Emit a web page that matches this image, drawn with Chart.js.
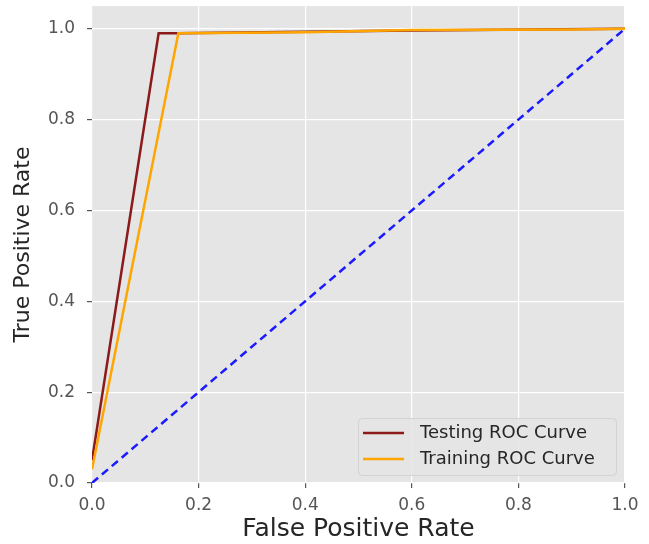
<!DOCTYPE html>
<html>
<head>
<meta charset="utf-8">
<script src="https://cdn.jsdelivr.net/npm/chart.js@4.4.1/dist/chart.umd.min.js"></script>
<style>
html,body{margin:0;padding:0;background:#fff;}
#wrap{width:649px;height:544px;}
</style>
</head>
<body>
<div id="wrap"><canvas id="c" width="649" height="544"></canvas></div>
<script>
const testingFPR = [0.0, 0.125, 0.16, 0.6, 1.0];
const testingTPR = [0.05, 0.99, 0.99, 0.996, 1.0];
const trainingFPR = [0.0, 0.162, 0.4, 0.6, 0.9, 1.0];
const trainingTPR = [0.03, 0.99, 0.992, 0.997, 0.998, 1.0];
const chanceFPR = [0.0, 1.0];
const chanceTPR = [0.0, 1.0];
const tickValues = [0.0, 0.2, 0.4, 0.6, 0.8, 1.0];
const seriesLabels = ['Testing ROC Curve', 'Training ROC Curve'];
const xTitle = 'False Positive Rate';
const yTitle = 'True Positive Rate';

const pts = (xs, ys) => xs.map((x, i) => ({x: x, y: ys[i]}));
const FONT = "'DejaVu Sans', sans-serif";

const bgPlugin = {
  id: 'bg',
  beforeDraw(chart) {
    const {ctx, chartArea: a} = chart;
    ctx.save();
    ctx.fillStyle = '#E5E5E5';
    ctx.fillRect(a.left, a.top, a.right - a.left, a.bottom - a.top);
    ctx.restore();
  }
};

const legendPlugin = {
  id: 'innerLegend',
  afterDraw(chart) {
    const {ctx, chartArea: a} = chart;
    const items = chart.data.datasets.filter(d => d.label);
    const w = 258, rowH = 26, h = 57;
    const x0 = a.right - 9 - w, y0 = a.bottom - 8 - h;
    ctx.save();
    ctx.beginPath();
    if (ctx.roundRect) ctx.roundRect(x0 + 0.5, y0 + 0.5, w, h, 4); else ctx.rect(x0 + 0.5, y0 + 0.5, w, h);
    ctx.fillStyle = 'rgba(229,229,229,0.85)';
    ctx.fill();
    ctx.strokeStyle = '#d2d2d2';
    ctx.lineWidth = 1;
    ctx.stroke();
    ctx.font = '18px ' + FONT;
    ctx.textBaseline = 'middle';
    items.forEach((d, i) => {
      const yy = y0 + 15 + i * rowH;
      ctx.strokeStyle = d.borderColor;
      ctx.lineWidth = 2.5;
      ctx.beginPath();
      ctx.moveTo(x0 + 5, yy);
      ctx.lineTo(x0 + 46, yy);
      ctx.stroke();
      ctx.fillStyle = '#262626';
      ctx.fillText(d.label, x0 + 62, yy);
    });
    ctx.restore();
  }
};

new Chart(document.getElementById('c'), {
  type: 'scatter',
  data: {
    datasets: [
      {label: seriesLabels[0], data: pts(testingFPR, testingTPR), showLine: true, borderColor: '#8B1A1A', borderWidth: 2.5, pointRadius: 0, fill: false, tension: 0, order: 2},
      {label: seriesLabels[1], data: pts(trainingFPR, trainingTPR), showLine: true, borderColor: '#FFA500', borderWidth: 2.5, pointRadius: 0, fill: false, tension: 0, order: 1},
      {label: '', data: pts(chanceFPR, chanceTPR), showLine: true, borderColor: '#1a1aFF', borderWidth: 2.5, borderDash: [8, 5], pointRadius: 0, fill: false, tension: 0, order: 0}
    ]
  },
  options: {
    responsive: false,
    animation: false,
    devicePixelRatio: 1,
    layout: {padding: {left: 0, right: 24, top: 6, bottom: 0}},
    plugins: {legend: {display: false}, tooltip: {enabled: false}},
    scales: {
      x: {
        type: 'linear', min: 0, max: 1.0,
        afterBuildTicks(s) { s.ticks = tickValues.map(v => ({value: v})); },
        afterFit(s) { s.height = 61; s.paddingLeft = 0; s.paddingRight = 0; },
        border: {display: false},
        grid: {color: '#FFFFFF', lineWidth: 1.2, tickColor: '#555555', tickLength: 5, drawTicks: true},
        ticks: {color: '#555555', font: {family: FONT, size: 17}, padding: 7, maxRotation: 0, callback: v => v.toFixed(1)},
        title: {display: true, text: xTitle, color: '#262626', font: {family: FONT, size: 25}, padding: {top: 0, bottom: 0}}
      },
      y: {
        type: 'linear', min: 0, max: 1.05,
        afterBuildTicks(s) { s.ticks = tickValues.map(v => ({value: v})); },
        afterFit(s) { s.width = 92; s.paddingTop = 0; s.paddingBottom = 0; },
        border: {display: false},
        grid: {color: '#FFFFFF', lineWidth: 1.2, tickColor: '#555555', tickLength: 5, drawTicks: true},
        ticks: {color: '#555555', font: {family: FONT, size: 17}, padding: 12, callback: v => v.toFixed(1)},
        title: {display: true, text: yTitle, color: '#262626', font: {family: FONT, size: 22}, padding: {top: 10, bottom: 0}}
      }
    }
  },
  plugins: [bgPlugin, legendPlugin]
});
</script>
</body>
</html>
